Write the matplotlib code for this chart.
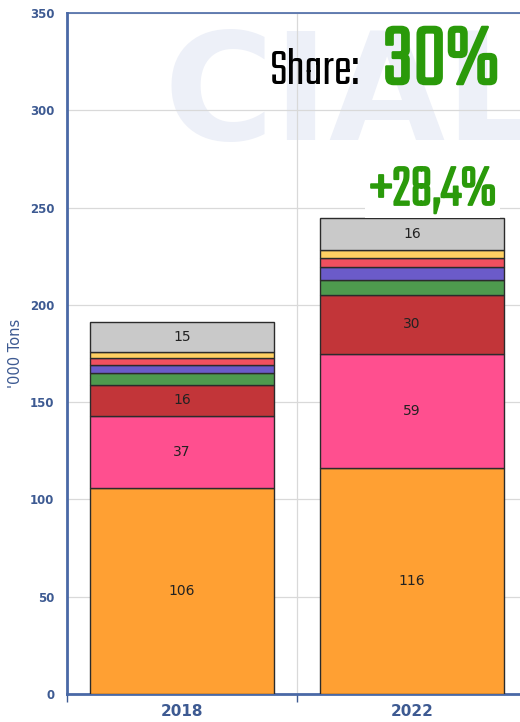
import matplotlib.pyplot as plt
import matplotlib.patheffects as pe
from matplotlib import font_manager
import numpy as np

years = ['2018', '2022']
segments = ['orange', 'pink', 'red', 'green', 'blue', 'rose', 'yellow', 'grey']
values = {
    'orange': [106, 116],
    'pink': [37, 59],
    'red': [16, 30],
    'green': [6.2, 7.8],
    'blue': [4.1, 6.5],
    'rose': [3.6, 5.0],
    'yellow': [2.7, 4.0],
    'grey': [15.4, 16.5],
}
labels = {
    'orange': ['106', '116'],
    'pink': ['37', '59'],
    'red': ['16', '30'],
    'grey': ['15', '16'],
}
colors = {
    'orange': '#ffa033',
    'pink': '#ff4f8f',
    'red': '#c23539',
    'green': '#4e9a4e',
    'blue': '#6b5bc9',
    'rose': '#f0505f',
    'yellow': '#ffd062',
    'grey': '#c9c9c9',
}
share_text = '30%'
growth_text = '+28,4%'

axis_blue = '#3d5a92'
green = '#2a9a0a'

# pick a narrow display face for the headline numbers
installed = set(f.name for f in font_manager.fontManager.ttflist)
headline_font = next((f for f in ['Teko', 'Saira Extra Condensed', 'Oswald', 'Barlow Condensed']
                      if f in installed), 'DejaVu Sans')

fig = plt.figure(figsize=(5.2, 7.22), dpi=100)
ax = fig.add_axes([67 / 520, 28 / 722, 460 / 520, 681 / 722])

# faint watermark behind the bars
ax.text(0.21, 0.875, 'CIAL', transform=ax.transAxes, fontsize=108, fontweight='heavy',
        color='#edf0f8', ha='left', va='center', zorder=0)

x = np.arange(len(years))
bottom = np.zeros(len(years))
for seg in segments:
    v = np.array(values[seg])
    ax.bar(x, v, width=0.8, bottom=bottom, color=colors[seg], edgecolor='#2b2b2b',
           linewidth=1.0, zorder=3)
    if seg in labels:
        for i, lab in enumerate(labels[seg]):
            ax.text(x[i], bottom[i] + v[i] / 2, lab, ha='center', va='center',
                    fontsize=10, color='#222222', zorder=4)
    bottom += v

ax.set_xlim(-0.5, 1.5)
ax.set_ylim(0, 350)
ax.set_yticks(range(0, 351, 50))
ax.set_xticks(x)
ax.set_xticklabels(years, fontsize=11, fontweight='bold', color=axis_blue)
ax.set_xticks([-0.5, 0.5, 1.5], minor=True)
ax.tick_params(axis='x', which='major', length=0, pad=7)
ax.tick_params(axis='x', which='minor', length=6, color=axis_blue, width=1)
ax.tick_params(axis='y', length=0, pad=9, labelsize=8.5, labelcolor=axis_blue)
for t in ax.get_yticklabels():
    t.set_fontweight('bold')

ax.grid(axis='y', color='#d9d9d9', linewidth=0.9, zorder=1)
ax.grid(axis='x', which='minor', color='#d9d9d9', linewidth=0.9, zorder=1)
ax.set_axisbelow(True)

for side in ['left', 'bottom', 'top']:
    ax.spines[side].set_color('#4a69a6')
    ax.spines[side].set_linewidth(2)
ax.spines['top'].set_linewidth(1.2)
ax.spines['right'].set_visible(False)

ax.set_ylabel("'000 Tons", fontsize=10.5, color=axis_blue, labelpad=5)

# headline annotations (light stroke to mimic the heavy display face)
fig.text(360 / 520, 1 - 84 / 722, 'Share:', fontsize=39, family=headline_font,
         color='black', ha='right', va='baseline')
fig.text(499 / 520, 1 - 84 / 722, share_text, fontsize=66, fontweight='bold',
         family=headline_font, color=green, ha='right', va='baseline',
         path_effects=[pe.withStroke(linewidth=1.8, foreground=green)])
fig.text(496 / 520, 1 - 205 / 722, growth_text, fontsize=44, fontweight='bold',
         family=headline_font, color=green, ha='right', va='baseline',
         path_effects=[pe.withStroke(linewidth=1.3, foreground=green)],
         bbox=dict(facecolor='white', edgecolor='none', pad=3))

fig.savefig('out.png', dpi=100)
